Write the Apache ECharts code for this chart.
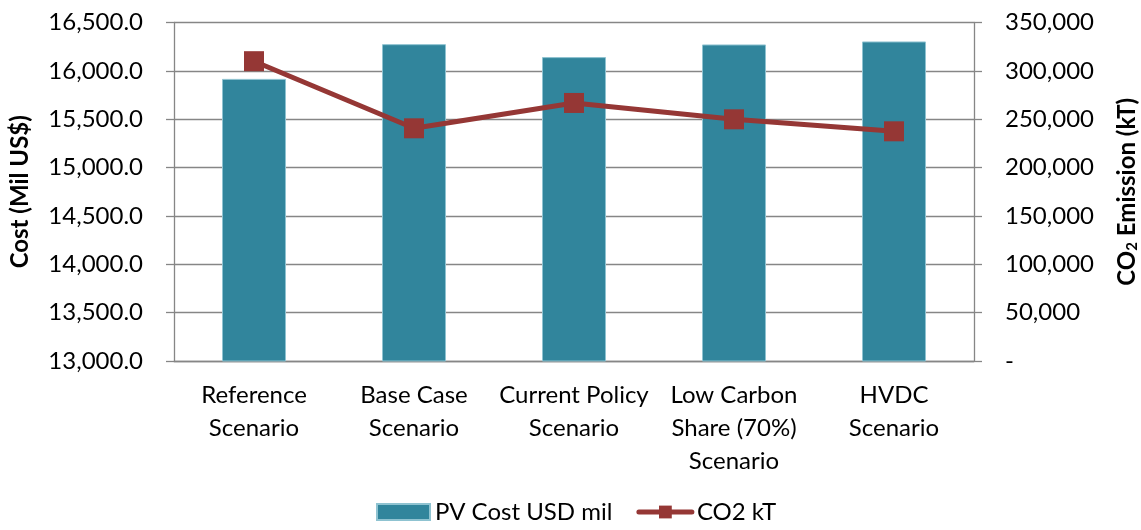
<!DOCTYPE html>
<html>
<head>
<meta charset="utf-8">
<script src="https://cdn.jsdelivr.net/npm/echarts@6/dist/echarts.min.js"></script>
<style>
html,body{margin:0;padding:0;background:#fff;}
#chart{width:1141px;height:530px;}
</style>
</head>
<body>
<div id="chart"></div>
<script>
const categories = ['Reference\nScenario', 'Base Case\nScenario', 'Current Policy\nScenario', 'Low Carbon\nShare (70%)\nScenario', 'HVDC\nScenario'];
const pvCost = [15917, 16276, 16142, 16273, 16304];
const co2 = [310000, 240600, 266800, 249900, 237500];
const costTicks = {min: 13000, max: 16500, interval: 500};
const co2Ticks = {min: 0, max: 350000, interval: 50000};

const FONT = 'Lato';
const axisGray = '#868686';
const chart = echarts.init(document.getElementById('chart'));
chart.setOption({
  animation: false,
  textStyle: {fontFamily: FONT, color: '#000'},
  grid: {left: 174, right: 167, top: 22.5, bottom: 169, outerBoundsMode: 'none', containLabel: false},
  legend: {
    bottom: 1, left: 371, itemWidth: 53, itemHeight: 16, itemGap: 24,
    textStyle: {fontFamily: FONT, fontSize: 24, color: '#000'},
    data: [
      {name: 'PV Cost USD mil', icon: 'rect'},
      {name: 'CO2 kT', lineStyle: {width: 5, cap: 'round'}}
    ]
  },
  xAxis: {
    type: 'category', data: categories,
    axisLine: {lineStyle: {color: axisGray, width: 1.3}},
    axisTick: {length: 7, lineStyle: {color: axisGray, width: 1.3}},
    axisLabel: {interval: 0, fontSize: 24, lineHeight: 33, margin: 18, color: '#000', fontFamily: FONT}
  },
  yAxis: [
    {
      type: 'value', min: costTicks.min, max: costTicks.max, interval: costTicks.interval,
      name: 'Cost (Mil US$)', nameLocation: 'middle', nameGap: 142, nameRotate: 90,
      nameTextStyle: {fontSize: 24, fontWeight: 'bold', color: '#000', fontFamily: FONT},
      axisLine: {show: true, lineStyle: {color: axisGray, width: 1.3}},
      axisTick: {show: true, length: 8, lineStyle: {color: axisGray, width: 1.3}},
      splitLine: {show: true, lineStyle: {color: axisGray, width: 1.3}},
      axisLabel: {fontSize: 24, margin: 31, color: '#000', fontFamily: FONT,
        formatter: v => v.toLocaleString('en-US', {minimumFractionDigits: 1, maximumFractionDigits: 1})}
    },
    {
      type: 'value', min: co2Ticks.min, max: co2Ticks.max, interval: co2Ticks.interval, position: 'right',
      name: '{b|CO}{s|2}{b| Emission (kT)}', nameLocation: 'middle', nameGap: 136, nameRotate: 90,
      nameTextStyle: {
        fontFamily: FONT,
        rich: {
          b: {fontSize: 24, fontWeight: 'bold', color: '#000', fontFamily: FONT, lineHeight: 34, verticalAlign: 'middle'},
          s: {fontSize: 15, fontWeight: 'bold', color: '#000', fontFamily: FONT, lineHeight: 34, verticalAlign: 'bottom', padding: [0, 0, 4, 0]}
        }
      },
      axisLine: {show: true, lineStyle: {color: axisGray, width: 1.3}},
      axisTick: {show: true, length: 8, lineStyle: {color: axisGray, width: 1.3}},
      splitLine: {show: false},
      axisLabel: {fontSize: 24, margin: 31, color: '#000', fontFamily: FONT,
        formatter: v => v === 0 ? '-' : v.toLocaleString('en-US')}
    }
  ],
  series: [
    {
      name: 'PV Cost USD mil', type: 'bar', yAxisIndex: 0, data: pvCost,
      barWidth: 64,
      itemStyle: {color: '#31859C', borderColor: '#8fc3d1', borderWidth: 1}
    },
    {
      name: 'CO2 kT', type: 'line', yAxisIndex: 1, data: co2,
      symbol: 'rect', symbolSize: 20,
      lineStyle: {color: '#953735', width: 5},
      itemStyle: {color: '#953735'}
    }
  ]
});
</script>
</body>
</html>
